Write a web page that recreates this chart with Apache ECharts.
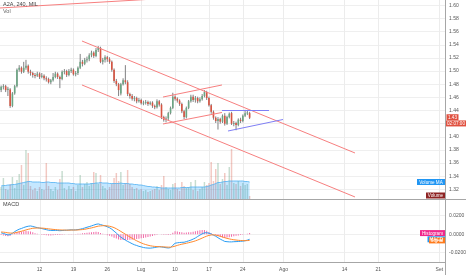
<!DOCTYPE html>
<html><head><meta charset="utf-8">
<script src="https://cdn.jsdelivr.net/npm/echarts@6/dist/echarts.min.js"></script>
<style>html,body{margin:0;padding:0;background:#fff}#c{width:466px;height:275px}</style>
</head><body><div id="c"></div>
<script>
// ---- tick labels (x axis) ----
const tickDates = ['2017-06-12','2017-06-19','2017-06-26','2017-07-03','2017-07-10','2017-07-17','2017-07-24','2017-08-01','2017-08-14','2017-08-21','2017-09-01'];
const tickLabels = ['12','19','26','Lug','10','17','24','Ago','14','21','Set'];

// ---- 4h candles [open, close, low, high] ----
const candles = [
[1.471,1.476,1.468,1.478],[1.476,1.477,1.472,1.480],[1.477,1.471,1.468,1.479],[1.471,1.473,1.462,1.476],
[1.472,1.447,1.444,1.474],[1.447,1.466,1.445,1.468],[1.466,1.477,1.464,1.479],[1.477,1.502,1.475,1.504],
[1.502,1.505,1.499,1.509],[1.505,1.499,1.496,1.507],[1.499,1.505,1.497,1.514],[1.505,1.508,1.502,1.517],
[1.508,1.499,1.496,1.510],[1.499,1.497,1.493,1.502],[1.497,1.494,1.490,1.499],[1.494,1.493,1.489,1.497],
[1.493,1.496,1.491,1.499],[1.496,1.491,1.488,1.498],[1.491,1.493,1.489,1.497],[1.493,1.489,1.486,1.495],
[1.489,1.488,1.484,1.492],[1.488,1.483,1.481,1.490],[1.483,1.486,1.480,1.488],[1.486,1.491,1.484,1.497],
[1.491,1.496,1.489,1.499],[1.496,1.491,1.488,1.498],[1.491,1.488,1.474,1.493],[1.488,1.499,1.486,1.501],
[1.499,1.500,1.495,1.503],[1.500,1.494,1.491,1.502],[1.494,1.500,1.492,1.503],[1.500,1.502,1.497,1.505],
[1.502,1.495,1.493,1.504],[1.495,1.497,1.492,1.500],[1.497,1.505,1.494,1.507],[1.505,1.514,1.503,1.526],
[1.514,1.511,1.507,1.517],[1.511,1.517,1.509,1.520],[1.517,1.518,1.513,1.522],[1.518,1.524,1.515,1.527],
[1.524,1.528,1.521,1.531],[1.528,1.523,1.520,1.530],[1.523,1.532,1.521,1.535],[1.532,1.535,1.529,1.538],
[1.535,1.514,1.512,1.537],[1.514,1.517,1.510,1.520],[1.517,1.521,1.513,1.524],[1.521,1.518,1.514,1.523],
[1.518,1.514,1.511,1.521],[1.514,1.502,1.499,1.516],[1.502,1.485,1.482,1.504],[1.485,1.480,1.477,1.488],
[1.480,1.471,1.462,1.482],[1.466,1.480,1.463,1.482],[1.480,1.486,1.478,1.489],[1.486,1.483,1.480,1.509],
[1.483,1.465,1.462,1.486],[1.465,1.462,1.458,1.467],[1.462,1.458,1.455,1.465],[1.458,1.459,1.454,1.462],
[1.459,1.454,1.451,1.461],[1.454,1.456,1.452,1.459],[1.456,1.451,1.449,1.458],[1.451,1.452,1.448,1.455],
[1.452,1.453,1.449,1.456],[1.453,1.450,1.447,1.455],[1.450,1.452,1.448,1.454],[1.452,1.447,1.444,1.454],
[1.447,1.445,1.442,1.449],[1.445,1.454,1.443,1.457],[1.454,1.449,1.446,1.456],[1.449,1.430,1.427,1.451],
[1.430,1.426,1.423,1.432],[1.426,1.428,1.422,1.431],[1.428,1.436,1.425,1.438],[1.436,1.444,1.434,1.446],
[1.444,1.461,1.442,1.467],[1.461,1.458,1.455,1.463],[1.458,1.455,1.452,1.460],[1.455,1.450,1.447,1.457],
[1.450,1.439,1.436,1.452],[1.439,1.430,1.427,1.441],[1.430,1.444,1.428,1.446],[1.444,1.454,1.442,1.456],
[1.454,1.461,1.452,1.464],[1.461,1.456,1.453,1.464],[1.456,1.459,1.452,1.462],[1.459,1.454,1.451,1.461],
[1.454,1.457,1.452,1.460],[1.457,1.462,1.455,1.465],[1.462,1.468,1.460,1.471],[1.468,1.459,1.456,1.470],
[1.459,1.448,1.446,1.461],[1.448,1.438,1.435,1.450],[1.438,1.429,1.426,1.440],[1.429,1.424,1.421,1.431],
[1.424,1.427,1.411,1.430],[1.427,1.423,1.420,1.429],[1.423,1.432,1.421,1.434],[1.432,1.420,1.417,1.436],
[1.420,1.430,1.418,1.432],[1.430,1.435,1.428,1.437],[1.436,1.420,1.418,1.438],[1.420,1.421,1.416,1.424],
[1.421,1.418,1.410,1.423],[1.418,1.426,1.416,1.428],[1.426,1.424,1.421,1.429],[1.424,1.432,1.422,1.434],
[1.432,1.436,1.430,1.441],[1.436,1.437,1.433,1.441],[1.436,1.429,1.427,1.438]
];

// ---- volume (millions) ----
const volume = [2.4,4.2,2.0,1.8,3.0,4.4,2.2,3.8,5.0,6.8,2.8,9.8,9.2,2.6,1.8,2.2,1.6,2.4,2.0,1.8,
7.2,2.6,2.0,1.6,2.4,1.8,4.0,5.6,2.2,1.8,2.6,2.0,2.4,1.6,2.8,4.8,2.4,3.0,3.4,2.6,
3.2,5.4,5.2,3.0,4.8,2.6,2.2,1.8,2.4,3.0,4.2,5.2,3.6,5.4,2.8,3.2,5.8,3.0,2.4,2.0,
2.2,1.8,2.0,1.6,1.8,1.4,1.6,1.8,2.0,2.6,1.8,2.8,4.6,2.4,2.0,1.8,3.0,3.2,2.0,1.6,
3.4,2.6,2.2,2.4,3.4,1.8,3.8,1.6,2.0,2.4,3.4,2.8,3.2,7.4,3.6,6.0,7.2,3.0,4.0,5.2,
2.8,6.4,10.0,3.2,3.0,3.6,2.6,3.2,2.8,3.0,0.6];

// ---- volume moving average ----
const volumeMA = [2.6,2.7,2.7,2.8,2.8,2.9,2.9,3.0,3.1,3.2,3.3,3.4,3.5,3.5,3.4,3.4,3.4,3.4,3.3,3.3,
3.4,3.4,3.3,3.3,3.3,3.2,3.2,3.2,3.2,3.2,3.2,3.1,3.1,3.0,3.0,3.0,3.0,3.0,3.0,3.0,
3.1,3.1,3.2,3.2,3.3,3.2,3.2,3.2,3.1,3.1,3.1,3.1,3.1,3.2,3.1,3.1,3.1,3.0,3.0,2.9,
2.9,2.8,2.8,2.7,2.6,2.5,2.5,2.4,2.4,2.3,2.3,2.2,2.2,2.2,2.2,2.2,2.2,2.2,2.2,2.2,
2.3,2.3,2.3,2.3,2.4,2.4,2.4,2.4,2.4,2.4,2.4,2.5,2.6,2.8,2.9,3.1,3.3,3.3,3.4,3.5,
3.5,3.6,3.6,3.6,3.6,3.6,3.6,3.6,3.5,3.5,3.4];

// ---- MACD ----
const macd = [0.0015,0.0008,0.0000,-0.0008,-0.0005,0.0010,0.0028,0.0042,0.0054,0.0062,
0.0072,0.0080,0.0086,0.0089,0.0084,0.0077,0.0071,0.0066,0.0061,0.0055,
0.0049,0.0043,0.0041,0.0040,0.0041,0.0040,0.0038,0.0040,0.0042,0.0043,
0.0045,0.0047,0.0046,0.0047,0.0050,0.0054,0.0060,0.0067,0.0075,0.0082,
0.0090,0.0098,0.0107,0.0111,0.0104,0.0097,0.0090,0.0080,0.0070,0.0054,
0.0033,0.0012,-0.0012,-0.0032,-0.0048,-0.0064,-0.0078,-0.0090,-0.0103,-0.0114,
-0.0122,-0.0131,-0.0137,-0.0144,-0.0148,-0.0150,-0.0151,-0.0148,-0.0144,-0.0139,
-0.0135,-0.0138,-0.0142,-0.0146,-0.0149,-0.0145,-0.0120,-0.0098,-0.0093,-0.0090,
-0.0088,-0.0087,-0.0080,-0.0072,-0.0064,-0.0053,-0.0041,-0.0025,-0.0010,0.0004,
0.0015,0.0016,0.0011,0.0002,-0.0011,-0.0022,-0.0038,-0.0053,-0.0066,-0.0078,
-0.0081,-0.0083,-0.0083,-0.0081,-0.0080,-0.0079,-0.0077,-0.0075,-0.0071,-0.0064,-0.0055];
const signal = [0.0024,0.0022,0.0019,0.0015,0.0012,0.0012,0.0015,0.0020,0.0026,0.0032,
0.0039,0.0046,0.0053,0.0059,0.0064,0.0066,0.0067,0.0067,0.0066,0.0064,
0.0061,0.0058,0.0055,0.0052,0.0050,0.0048,0.0046,0.0045,0.0045,0.0044,
0.0044,0.0045,0.0045,0.0045,0.0046,0.0048,0.0050,0.0053,0.0058,0.0063,
0.0068,0.0074,0.0081,0.0087,0.0090,0.0092,0.0092,0.0090,0.0086,0.0080,
0.0071,0.0059,0.0045,0.0030,0.0015,0.0000,-0.0015,-0.0030,-0.0044,-0.0058,
-0.0071,-0.0083,-0.0094,-0.0104,-0.0112,-0.0119,-0.0125,-0.0129,-0.0132,-0.0134,
-0.0135,-0.0136,-0.0137,-0.0139,-0.0140,-0.0140,-0.0136,-0.0129,-0.0121,-0.0114,
-0.0108,-0.0103,-0.0098,-0.0092,-0.0086,-0.0080,-0.0072,-0.0063,-0.0053,-0.0042,
-0.0031,-0.0021,-0.0013,-0.0008,-0.0007,-0.0010,-0.0015,-0.0022,-0.0030,-0.0038,
-0.0045,-0.0051,-0.0056,-0.0060,-0.0063,-0.0066,-0.0068,-0.0069,-0.0070,-0.0069,-0.0067];
const histogram = [-0.0009,-0.0014,-0.0019,-0.0023,-0.0017,-0.0002,0.0013,0.0022,0.0028,0.0030,
0.0033,0.0034,0.0033,0.0030,0.0020,0.0011,0.0004,-0.0001,-0.0005,-0.0009,
-0.0012,-0.0015,-0.0014,-0.0012,-0.0009,-0.0008,-0.0008,-0.0005,-0.0003,-0.0001,
0.0001,0.0002,0.0001,0.0002,0.0004,0.0006,0.0010,0.0014,0.0017,0.0019,
0.0022,0.0024,0.0026,0.0024,0.0014,0.0005,-0.0002,-0.0010,-0.0016,-0.0026,
-0.0038,-0.0047,-0.0057,-0.0062,-0.0063,-0.0064,-0.0063,-0.0060,-0.0059,-0.0056,
-0.0051,-0.0048,-0.0043,-0.0040,-0.0036,-0.0031,-0.0026,-0.0019,-0.0012,-0.0005,
0.0000,-0.0002,-0.0005,-0.0007,-0.0009,-0.0005,0.0016,0.0031,0.0028,0.0024,
0.0020,0.0016,0.0018,0.0020,0.0022,0.0027,0.0031,0.0038,0.0043,0.0046,
0.0046,0.0037,0.0024,0.0010,-0.0004,-0.0012,-0.0023,-0.0031,-0.0036,-0.0040,
-0.0036,-0.0032,-0.0027,-0.0021,-0.0017,-0.0013,-0.0009,-0.0006,-0.0001,0.0005,0.0012];

// ---- drawn trend lines: [[barIndex, price], [barIndex, price]] ----
const redLines = [
  [[-0.5,1.5959],[70,1.6100]],
  [[35.8,1.5457],[156.65,1.3754]],
  [[35.8,1.4788],[156.65,1.3085]],
  [[71.66,1.4605],[97.77,1.4788]],
  [[71.66,1.4195],[97.77,1.4370]]
];
const blueLines = [
  [[97.77,1.4400],[118.58,1.4400]],
  [[100.43,1.4088],[124.78,1.4263]]
];

// ---- bar slots: 3 bars per trading day ----
const cats = [];
(function () {
  const d = new Date(Date.UTC(2017, 5, 2));
  const end = Date.UTC(2017, 8, 1);
  let first = true;
  while (d.getTime() <= end) {
    const wd = d.getUTCDay();
    if (wd !== 0 && wd !== 6) {
      const s = d.toISOString().slice(0, 10);
      for (let k = first ? 1 : 0; k < 3; k++) cats.push(s + ' ' + k);
      first = false;
    }
    d.setUTCDate(d.getUTCDate() + 1);
  }
})();
const tickIdx = tickDates.map(t => cats.indexOf(t + ' 0'));

const UP = '#6ba583', DOWN = '#d75442', WICK = '#737375';
const FONT = 'Liberation Sans, Arial, sans-serif';
const PLOT_R = 21;

const candleData = candles.map((c, i) => [i, c[0], c[1], c[2], c[3]]);
const volData = volume.map((v, i) => ({
  value: v,
  itemStyle: { color: candles[i][1] >= candles[i][0] ? 'rgba(107,165,131,0.38)' : 'rgba(215,84,66,0.32)' }
}));

const series = [];
// vertical week grid lines (time grid)
series.push({
  type: 'custom', xAxisIndex: 4, yAxisIndex: 3, silent: true, z: 0,
  data: tickIdx.map(i => [i]),
  renderItem: function (params, api) {
    const top = api.coord([api.value(0), 1]);
    const bot = api.coord([api.value(0), 0]);
    const x = Math.round(top[0]) + 0.5;
    return { type: 'line', shape: { x1: x, y1: top[1], x2: x, y2: bot[1] }, style: { stroke: '#ececec', lineWidth: 1 } };
  }
});
// candles
series.push({
  type: 'custom', xAxisIndex: 0, yAxisIndex: 0, z: 5,
  data: candleData,
  encode: { x: 0, y: [1, 2, 3, 4] },
  renderItem: function (params, api) {
    const i = api.value(0), o = api.value(1), c = api.value(2), l = api.value(3), h = api.value(4);
    const pO = api.coord([i, o]), pC = api.coord([i, c]), pL = api.coord([i, l]), pH = api.coord([i, h]);
    const w = api.size([1, 0])[0] * 0.72;
    const x = pO[0];
    const top = Math.min(pO[1], pC[1]);
    const hh = Math.max(Math.abs(pO[1] - pC[1]), 1);
    return { type: 'group', children: [
      { type: 'line', shape: { x1: x, y1: pH[1], x2: x, y2: pL[1] }, style: { stroke: WICK, lineWidth: 0.9 } },
      { type: 'rect', shape: { x: x - w / 2, y: top, width: w, height: hh }, style: { fill: c >= o ? UP : DOWN } }
    ] };
  }
});
// trend lines
redLines.forEach(seg => series.push({
  type: 'line', xAxisIndex: 1, yAxisIndex: 0, data: seg, symbol: 'none', silent: true, z: 6,
  lineStyle: { color: '#f77f7f', width: 1 }
}));
blueLines.forEach(seg => series.push({
  type: 'line', xAxisIndex: 1, yAxisIndex: 0, data: seg, symbol: 'none', silent: true, z: 6,
  lineStyle: { color: '#7f7ff5', width: 1 }
}));
// volume
series.push({
  type: 'bar', xAxisIndex: 2, yAxisIndex: 1, data: volData, barCategoryGap: '35%', z: 2, silent: true
});
series.push({
  type: 'line', xAxisIndex: 2, yAxisIndex: 1, data: volumeMA, symbol: 'none', silent: true, z: 3,
  lineStyle: { color: '#4fb0f2', width: 0.8 },
  areaStyle: { color: 'rgba(4,150,255,0.33)' }
});
// MACD
series.push({
  type: 'bar', xAxisIndex: 3, yAxisIndex: 2, data: histogram, barWidth: 1, silent: true, z: 2,
  itemStyle: { color: '#f26aa8' }
});
series.push({
  type: 'line', xAxisIndex: 3, yAxisIndex: 2, data: macd, symbol: 'none', silent: true, z: 3,
  lineStyle: { color: '#2a9df4', width: 1 }
});
series.push({
  type: 'line', xAxisIndex: 3, yAxisIndex: 2, data: signal, symbol: 'none', silent: true, z: 3,
  lineStyle: { color: '#ff8a2e', width: 1 }
});

const axLabel = { fontSize: 5, color: '#555', fontFamily: FONT };
const chart = echarts.init(document.getElementById('c'), null, { renderer: 'canvas' });
chart.setOption({
  animation: false,
  backgroundColor: '#fff',
  grid: [
    { left: 0, right: PLOT_R, top: -7.85, height: 210.4, outerBoundsMode: 'none' },
    { left: 0, right: PLOT_R, top: 130, height: 69, outerBoundsMode: 'none' },
    { left: 0, right: PLOT_R, top: 197.2, height: 74, outerBoundsMode: 'none' },
    { left: 0, right: PLOT_R, top: 0, height: 262, outerBoundsMode: 'none' }
  ],
  xAxis: [
    { type: 'category', gridIndex: 0, data: cats, show: false },
    { type: 'value', gridIndex: 0, min: -0.5, max: cats.length - 0.5, show: false },
    { type: 'category', gridIndex: 1, data: cats, show: false },
    { type: 'category', gridIndex: 2, data: cats, show: false },
    { type: 'category', gridIndex: 3, data: cats,
      axisLine: { show: true, lineStyle: { color: '#a6a6a6', width: 1 } },
      axisTick: { show: false },
      splitLine: { show: false },
      axisLabel: Object.assign({}, axLabel, {
        margin: 5,
        interval: function (idx) { return tickIdx.indexOf(idx) >= 0; },
        formatter: function (v, idx) { const k = tickIdx.indexOf(idx); return k >= 0 ? tickLabels[k] : ''; }
      })
    }
  ],
  yAxis: [
    { type: 'value', gridIndex: 0, position: 'right', min: 1.30, max: 1.62, interval: 0.02,
      axisLine: { show: false }, axisTick: { show: false },
      splitLine: { show: true, showMinLine: false, showMaxLine: false, lineStyle: { color: '#efefef', width: 1 } },
      axisLabel: Object.assign({}, axLabel, { margin: 4, showMinLabel: false, showMaxLabel: false,
        formatter: v => v.toFixed(2) })
    },
    { type: 'value', gridIndex: 1, min: 0, max: 13.8, show: false, splitLine: { show: false } },
    { type: 'value', gridIndex: 2, position: 'right', min: -0.04, max: 0.04, interval: 0.02,
      axisLine: { show: false }, axisTick: { show: false },
      splitLine: { show: true, showMinLine: false, showMaxLine: false, lineStyle: { color: '#efefef', width: 1 } },
      axisLabel: Object.assign({}, axLabel, { margin: 4, showMinLabel: false, showMaxLabel: false,
        formatter: v => v.toFixed(4) })
    },
    { type: 'value', gridIndex: 3, min: 0, max: 1, show: false, splitLine: { show: false } }
  ],
  series: series
});

// ---- overlay texts / value tags ----
function tag(xRight, width, yc, fill, text) {
  const h = 6;
  return [
    { type: 'rect', shape: { x: xRight - width, y: yc - h / 2, width: width, height: h }, style: { fill: fill }, z: 100 },
    { type: 'text', x: xRight - width / 2, y: yc + 0.3, z: 101,
      style: { text: text, fill: '#fff', fontSize: 4.6, fontFamily: FONT, align: 'center', verticalAlign: 'middle' } }
  ];
}
const last = candles.length - 1;
const yPrice = chart.convertToPixel({ yAxisIndex: 0 }, candles[last][1]);
const yVolMA = chart.convertToPixel({ yAxisIndex: 1 }, volumeMA[last]);
const yVol = chart.convertToPixel({ yAxisIndex: 1 }, volume[last]);
const yHist = chart.convertToPixel({ yAxisIndex: 2 }, histogram[last]);
const yMacd = chart.convertToPixel({ yAxisIndex: 2 }, macd[last]);
const ySig = chart.convertToPixel({ yAxisIndex: 2 }, signal[last]);

const g = [];
g.push({ type: 'line', shape: { x1: 445.5, y1: 0, x2: 445.5, y2: 275 }, style: { stroke: '#a6a6a6', lineWidth: 1 }, z: 90 });
g.push({ type: 'line', shape: { x1: 0, y1: 199.5, x2: 466, y2: 199.5 }, style: { stroke: '#a6a6a6', lineWidth: 1 }, z: 90 });
g.push({ type: 'text', x: 3, y: 4.8, z: 100, style: { text: 'A2A, 240, MIL', fill: '#444', fontSize: 5.5, fontFamily: FONT, verticalAlign: 'middle' } });
g.push({ type: 'text', x: 3, y: 11.8, z: 100, style: { text: 'Vol', fill: '#666', fontSize: 5.5, fontFamily: FONT, verticalAlign: 'middle' } });
g.push({ type: 'text', x: 3, y: 204.8, z: 100, style: { text: 'MACD', fill: '#444', fontSize: 5.5, fontFamily: FONT, verticalAlign: 'middle' } });
g.push(...tag(458.5, 12, yPrice - 0.5, '#e0503f', candles[last][1].toFixed(2)));
g.push(...tag(466, 20, yPrice + 5.7, '#e0503f', '02:07:00'));
g.push(...tag(445, 28, yVolMA, '#2196f3', 'Volume MA'));
g.push(...tag(445, 19, yVol - 0.5, '#8e2424', 'Volume'));
g.push(...tag(445, 25, yHist, '#f0288c', 'Histogram'));
g.push(...tag(445, 17.5, yMacd, '#2196f3', 'MACD'));
g.push(...tag(445, 16, ySig, '#ff7a1a', 'Signal'));
chart.setOption({ graphic: g });
</script>
</body></html>
